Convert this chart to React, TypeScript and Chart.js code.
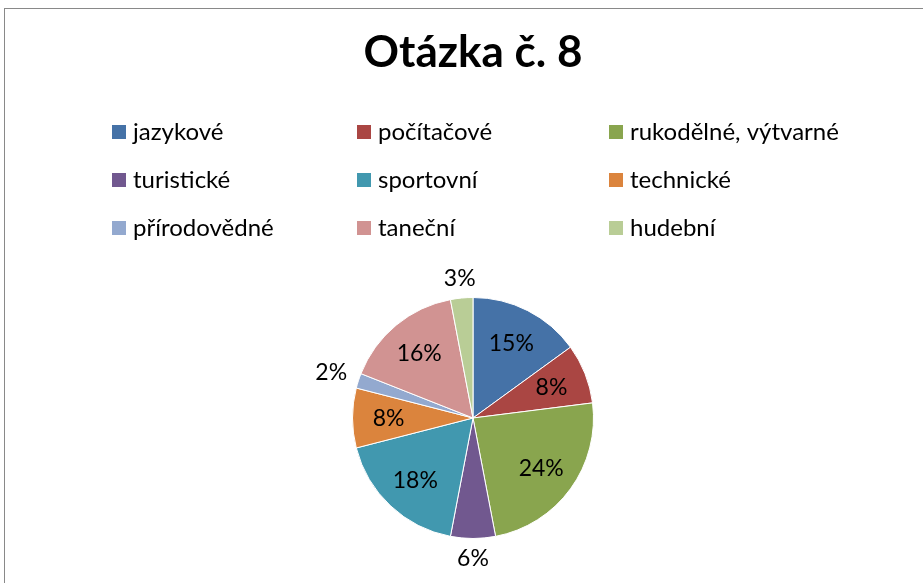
import React, { useEffect, useRef } from "react";
import { Chart, registerables } from "chart.js";

Chart.register(...registerables);

const titleText = "Otázka č. 8";
const categories = [
  "jazykové",
  "počítačové",
  "rukodělné, výtvarné",
  "turistické",
  "sportovní",
  "technické",
  "přírodovědné",
  "taneční",
  "hudební",
];
const values = [15, 8, 24, 6, 18, 8, 2, 16, 3];
const colors = [
  "#4572A7",
  "#AA4643",
  "#89A54E",
  "#71588F",
  "#4198AF",
  "#DB843D",
  "#93A9CF",
  "#D19392",
  "#B9CD96",
];

const FONT = "Lato, 'Open Sans', sans-serif";

const legendPlugin = {
  id: "gridLegend",
  afterDraw(chart: any) {
    const ctx = chart.ctx;
    const colX = [112, 357, 609];
    const rowY = [132, 180, 228];
    ctx.save();
    ctx.font = `24px ${FONT}`;
    ctx.textBaseline = "middle";
    ctx.textAlign = "left";
    categories.forEach((c, i) => {
      const col = i % 3;
      const row = Math.floor(i / 3);
      const x = colX[col];
      const y = rowY[row];
      ctx.fillStyle = colors[i];
      ctx.fillRect(x, y - 7, 14, 14);
      ctx.fillStyle = "#000";
      ctx.fillText(c, x + 21, y);
    });
    ctx.restore();
  },
};

const labelPlugin = {
  id: "pieLabels",
  afterDatasetsDraw(chart: any) {
    const ctx = chart.ctx;
    const meta = chart.getDatasetMeta(0);
    const total = values.reduce((a, b) => a + b, 0);
    ctx.save();
    ctx.font = `23px ${FONT}`;
    ctx.fillStyle = "#000";
    ctx.textAlign = "center";
    ctx.textBaseline = "middle";
    meta.data.forEach((arc: any, i: number) => {
      const p = arc.getProps(["x", "y", "startAngle", "endAngle", "outerRadius"], true);
      const mid = (p.startAngle + p.endAngle) / 2;
      const dx = Math.cos(mid);
      const dy = Math.sin(mid);
      const pct = Math.round((values[i] / total) * 100);
      const text = pct + "%";
      let r: number;
      if (pct < 7) {
        const w = ctx.measureText(text).width;
        const h = 16;
        const extent = Math.abs(dx) * w / 2 + Math.abs(dy) * h / 2;
        r = p.outerRadius + 11 + extent;
      } else {
        r = p.outerRadius * 0.7;
      }
      ctx.fillText(text, p.x + dx * r, p.y + dy * r + 1);
    });
    ctx.restore();
  },
};

export default function App() {
  const ref = useRef<HTMLCanvasElement | null>(null);
  useEffect(() => {
    if (!ref.current) return;
    const chart = new Chart(ref.current, {
      type: "pie",
      data: {
        labels: categories,
        datasets: [
          {
            data: values,
            backgroundColor: colors,
            borderColor: "#ffffff",
            borderWidth: 1,
          },
        ],
      },
      options: {
        animation: false,
        responsive: false,
        layout: { padding: { left: 352, right: 329, bottom: 44, top: 0 } },
        plugins: {
          legend: { display: false },
          tooltip: { enabled: false },
          title: {
            display: true,
            text: titleText,
            color: "#000",
            font: { family: FONT, size: 44, weight: "bold", lineHeight: 1.2 },
            padding: { top: 26, bottom: 297 - 26 - 52.8 },
          },
        },
      },
      plugins: [legendPlugin, labelPlugin],
    });
    return () => chart.destroy();
  }, []);
  return (
    <div style={{ position: "absolute", left: 0, top: 0, width: 923, height: 583, background: "#fff", overflow: "hidden" }}>
      <div
        style={{
          position: "absolute",
          left: 4,
          top: 8,
          width: 1000,
          height: 700,
          borderLeft: "1px solid #898989",
          borderTop: "1px solid #898989",
        }}
      />
      <canvas ref={ref} width={923} height={583} style={{ position: "absolute", left: 0, top: 0 }} />
    </div>
  );
}
